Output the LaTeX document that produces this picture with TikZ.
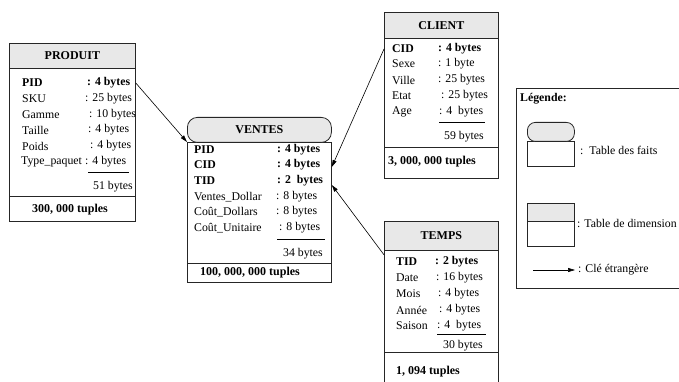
\documentclass[tikz,border=0pt]{standalone}
\usepackage{fontspec}
\setmainfont{Liberation Serif}
\usetikzlibrary{arrows.meta}
\begin{document}
\begin{tikzpicture}[x=1pt,y=-1pt,
  tbl/.style={draw=black!85, line width=0.8pt, inner sep=0pt, anchor=north west, fill=white},
  hdr/.style={tbl, fill=black!9, font=\fontsize{12}{13}\selectfont\bfseries},
  lbl/.style={anchor=west, inner sep=0pt, font=\fontsize{11.8}{13}\selectfont},
  key/.style={lbl, font=\fontsize{11.8}{13}\selectfont\bfseries},
  tot/.style={inner sep=0pt, font=\fontsize{12}{13}\selectfont\bfseries},
  rule/.style={draw=black!85, line width=0.9pt},
  uline/.style={draw=black, line width=0.6pt},
  fk/.style={draw=black, line width=0.6pt, -{Triangle[length=7pt,width=4pt]}}
]
\useasboundingbox (0,0) rectangle (679,382);
\clip (0,0) rectangle (679,382);

% ---------------- PRODUIT ----------------
\node[tbl, minimum width=126pt, minimum height=178pt] (produit) at (9,43) {};
\node[hdr, minimum width=126pt, minimum height=25pt] (produitH) at (9,43) {PRODUIT};
\node[key] (pPIDn) at (22,83) {PID};          \node[key] (pPID) at (87,83) {: 4 bytes};
\node[lbl] (pSKUn) at (22,99) {SKU};          \node[lbl] (pSKU) at (85,99) {: 25 bytes};
\node[lbl] (pGamn) at (22,115) {Gamme};       \node[lbl] (pGam) at (89,115) {: 10 bytes};
\node[lbl] (pTain) at (22,130) {Taille};      \node[lbl] (pTai) at (88,130) {: 4 bytes};
\node[lbl] (pPoin) at (22,146) {Poids};       \node[lbl] (pPoi) at (90,146) {: 4 bytes};
\node[lbl] (pTypn) at (21,162) {Type\_paquet};\node[lbl] (pTyp) at (85,162) {: 4 bytes};
\draw[uline] (88,172) -- (129,172);
\node[lbl, anchor=east] (pSize) at (133,187) {51 bytes};
\draw[rule] (9,196) -- (135,196);
\node[tot] (pTup) at (70,210) {300, 000 tuples};

% ---------------- VENTES ----------------
\node[tbl, minimum width=144pt, minimum height=140pt] (ventesB) at (187,142) {};
\node[hdr, rounded corners=10pt, minimum width=144pt, minimum height=25pt] (ventesH) at (187,117) {VENTES};
\node[key] (vPIDn) at (194,150) {PID};            \node[key] (vPID) at (277,150) {: 4 bytes};
\node[key] (vCIDn) at (194,165) {CID};            \node[key] (vCID) at (277,165) {: 4 bytes};
\node[key] (vTIDn) at (194,181) {TID};            \node[key] (vTID) at (277,181) {: 2\ \ bytes};
\node[lbl] (vVDn) at (194,197) {Ventes\_Dollar};  \node[lbl] (vVD) at (276,197) {: 8 bytes};
\node[lbl] (vCDn) at (194,212) {Coût\_Dollars};   \node[lbl] (vCD) at (276,212) {: 8 bytes};
\node[lbl] (vCUn) at (194,228) {Coût\_Unitaire};  \node[lbl] (vCU) at (279,228) {: 8 bytes};
\draw[uline] (277,239) -- (325,239);
\node[lbl, anchor=east] (vSize) at (323,254) {34 bytes};
\draw[rule] (187,263) -- (331,263);
\node[tot, anchor=west] (vTup) at (200,273) {100, 000, 000 tuples};

% ---------------- CLIENT ----------------
\node[tbl, minimum width=114pt, minimum height=166pt] (client) at (384,12) {};
\node[hdr, minimum width=114pt, minimum height=26pt] (clientH) at (384,12) {CLIENT};
\node[key] (cCIDn) at (392,49) {CID};    \node[key] (cCID) at (438,49) {: 4 bytes};
\node[lbl] (cSexn) at (392,64) {Sexe};   \node[lbl] (cSex) at (438,64) {: 1 byte};
\node[lbl] (cVilns) at (392,80) {Ville}; \node[lbl] (cVil) at (438,80) {: 25 bytes};
\node[lbl] (cEtan) at (392,96) {Etat};   \node[lbl] (cEta) at (441,96) {: 25 bytes};
\node[lbl] (cAgen) at (392,112) {Age};   \node[lbl] (cAge) at (439,112) {: 4\ \ bytes};
\draw[uline] (439,122) -- (485,122);
\node[lbl, anchor=east] (cSize) at (484,137) {59 bytes};
\draw[rule] (384,147) -- (498,147);
\node[tot, anchor=west] (cTup) at (388,162) {3, 000, 000 tuples};

% ---------------- TEMPS ----------------
\node[tbl, minimum width=114pt, minimum height=170pt] (temps) at (384,221) {};
\node[hdr, minimum width=114pt, minimum height=29pt] (tempsH) at (384,221) {TEMPS};
\node[key] (tTIDn) at (396,262) {TID};    \node[key] (tTID) at (435,262) {: 2 bytes};
\node[lbl] (tDatn) at (396,278) {Date};   \node[lbl] (tDat) at (436,278) {: 16 bytes};
\node[lbl] (tMoin) at (396,294) {Mois};   \node[lbl] (tMoi) at (438,294) {: 4 bytes};
\node[lbl] (tAnn) at (396,310) {Année};   \node[lbl] (tAn) at (439,310) {: 4 bytes};
\node[lbl] (tSain) at (396,326) {Saison}; \node[lbl] (tSai) at (437,326) {: 4\ \ bytes};
\draw[uline] (437,334) -- (486,334);
\node[lbl, anchor=east] (tSize) at (483,346) {30 bytes};
\draw[rule] (384,352) -- (498,352);
\node[tot, anchor=west] (tTup) at (396,372) {1, 094 tuples};

% ---------------- foreign keys ----------------
\draw[fk] (produit.east |- pPID) -- (ventesB.north west);
\draw[fk] (client.west |- cCID) -- ([yshift=-2pt]ventesB.east |- vCID);
\draw[fk] ([yshift=-4pt]tempsH.south west) -- ([yshift=-4pt]ventesB.east |- vTID);

% ---------------- Legend ----------------
\node[tbl, fill=none, minimum width=200pt, minimum height=200pt] (legend) at (516,88) {};
\node[key] (lgTitle) at (520,99) {Légende:};
\node[tbl, minimum width=47pt, minimum height=25pt] (lgFactB) at (527,141) {};
\node[hdr, rounded corners=8pt, minimum width=47pt, minimum height=19pt] (lgFactH) at (527,122) {};
\node[lbl] (lgFactT) at (580,150) {:\ \ Table des faits};
\node[tbl, minimum width=47pt, minimum height=25pt] (lgDimB) at (527,221) {};
\node[hdr, minimum width=47pt, minimum height=18pt] (lgDimH) at (527,203) {};
\node[lbl] (lgDimT) at (577,223) {: Table de dimension};
\coordinate (lgA) at (533,270);
\coordinate (lgB) at (575,270);
\draw[fk] (lgA) -- (lgB);
\node[lbl] (lgFkT) at (578,270) {: Clé étrangère};
\end{tikzpicture}
\end{document}
